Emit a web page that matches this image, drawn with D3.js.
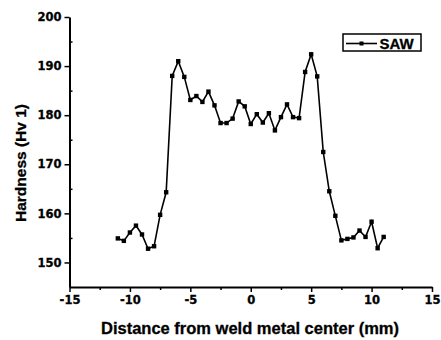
<!DOCTYPE html>
<html>
<head>
<meta charset="utf-8">
<script src="https://cdn.jsdelivr.net/npm/d3@7"></script>
<style>
  body { margin: 0; background: #fff; }
  svg { display: block; }
</style>
</head>
<body>
<div id="chart"></div>
<script>
// Hardness profile across the weld (SAW)
const distance = [
  -11, -10.5, -10, -9.5, -9, -8.5, -8, -7.5, -7, -6.5, -6, -5.5, -5, -4.5, -4,
  -3.5, -3, -2.5, -2, -1.5, -1, -0.5, 0, 0.5, 1, 1.5, 2, 2.5, 3, 3.5, 4, 4.5,
  5, 5.5, 6, 6.5, 7, 7.5, 8, 8.5, 9, 9.5, 10, 10.5, 11
];
const hardness = [
  154.9, 154.4, 156.1, 157.5, 155.7, 152.8, 153.3, 159.7, 164.3, 188.0, 191.0,
  187.8, 183.1, 183.9, 182.7, 184.8, 182.0, 178.4, 178.4, 179.3, 182.8, 181.8,
  178.2, 180.2, 178.5, 180.4, 176.9, 179.6, 182.2, 179.6, 179.4, 188.8, 192.4,
  187.9, 172.5, 164.5, 159.5, 154.5, 154.8, 155.1, 156.5, 155.2, 158.3, 152.9,
  155.2
];
const xTicks = [-15, -10, -5, 0, 5, 10, 15];
const yTicks = [150, 160, 170, 180, 190, 200];
const seriesName = 'SAW';

const width = 441;
const height = 340;
const margin = { top: 17, right: 9, bottom: 53, left: 69.5 };

const svg = d3.select('#chart')
  .append('svg')
  .attr('width', width)
  .attr('height', height);

const x = d3.scaleLinear()
  .domain([-15, 15])
  .range([margin.left, width - margin.right]);

const y = d3.scaleLinear()
  .domain([145, 200])
  .range([height - margin.bottom, margin.top]);

const tickFont = "'DejaVu Sans', sans-serif";
const titleFont = "'Liberation Sans', Arial, sans-serif";

// minor ticks
svg.append('g')
  .attr('transform', `translate(0,${y(145)})`)
  .call(d3.axisBottom(x).tickValues(d3.range(-12.5, 15, 5)).tickSize(3).tickFormat(''))
  .call(g => g.select('.domain').remove())
  .call(g => g.selectAll('line').attr('stroke-width', 1.5));

svg.append('g')
  .attr('transform', `translate(${x(-15)},0)`)
  .call(d3.axisLeft(y).tickValues(d3.range(155, 200, 10)).tickSize(-3).tickFormat(''))
  .call(g => g.select('.domain').remove())
  .call(g => g.selectAll('line').attr('stroke-width', 1.5));

// major axes
const xAxis = svg.append('g')
  .attr('transform', `translate(0,${y(145)})`)
  .call(d3.axisBottom(x).tickValues(xTicks).tickSize(5).tickSizeOuter(0).tickPadding(4)
    .tickFormat(d => String(d)));

const yAxis = svg.append('g')
  .attr('transform', `translate(${x(-15)},0)`)
  .call(d3.axisLeft(y).tickValues(yTicks).tickSize(5).tickSizeOuter(0).tickPadding(3));

[xAxis, yAxis].forEach(g => {
  g.select('.domain').attr('stroke-width', 2);
  g.selectAll('line').attr('stroke-width', 1.5);
  g.selectAll('text')
    .attr('font-family', tickFont)
    .attr('font-weight', 'bold')
    .attr('font-size', 11.5)
    .attr('fill', '#000')
    .attr('stroke', '#000')
    .attr('stroke-width', 0.3);
});

// series
const pts = distance.map((d, i) => ({ x: d, y: hardness[i] }));

svg.append('path')
  .datum(pts)
  .attr('fill', 'none')
  .attr('stroke', '#000')
  .attr('stroke-width', 1.6)
  .attr('d', d3.line().x(d => x(d.x)).y(d => y(d.y)));

svg.append('g')
  .selectAll('rect')
  .data(pts)
  .enter()
  .append('rect')
  .attr('x', d => x(d.x) - 2.2)
  .attr('y', d => y(d.y) - 2.2)
  .attr('width', 4.4)
  .attr('height', 4.4)
  .attr('fill', '#000');

// axis titles
svg.append('text')
  .attr('x', 250)
  .attr('y', 334)
  .attr('text-anchor', 'middle')
  .attr('font-family', titleFont)
  .attr('font-weight', 'bold')
  .attr('font-size', 16.5)
  .attr('stroke', '#000')
  .attr('stroke-width', 0.3)
  .text('Distance from weld metal center (mm)');

svg.append('text')
  .attr('transform', 'translate(26,163) rotate(-90)')
  .attr('text-anchor', 'middle')
  .attr('font-family', titleFont)
  .attr('font-weight', 'bold')
  .attr('font-size', 15.5)
  .attr('stroke', '#000')
  .attr('stroke-width', 0.3)
  .text('Hardness (Hv 1)');

// legend
const lg = svg.append('g').attr('transform', 'translate(343,34)');
lg.append('rect')
  .attr('width', 78)
  .attr('height', 17)
  .attr('fill', '#fff')
  .attr('stroke', '#000')
  .attr('stroke-width', 1.5);
lg.append('line')
  .attr('x1', 3).attr('x2', 34)
  .attr('y1', 9.5).attr('y2', 9.5)
  .attr('stroke', '#000')
  .attr('stroke-width', 1.6);
lg.append('rect')
  .attr('x', 16.5).attr('y', 7.5)
  .attr('width', 4).attr('height', 4)
  .attr('fill', '#000');
lg.append('text')
  .attr('x', 36.5)
  .attr('y', 15)
  .attr('font-family', titleFont)
  .attr('font-weight', 'bold')
  .attr('font-size', 15)
  .attr('stroke', '#000')
  .attr('stroke-width', 0.3)
  .text(seriesName);
</script>
</body>
</html>
